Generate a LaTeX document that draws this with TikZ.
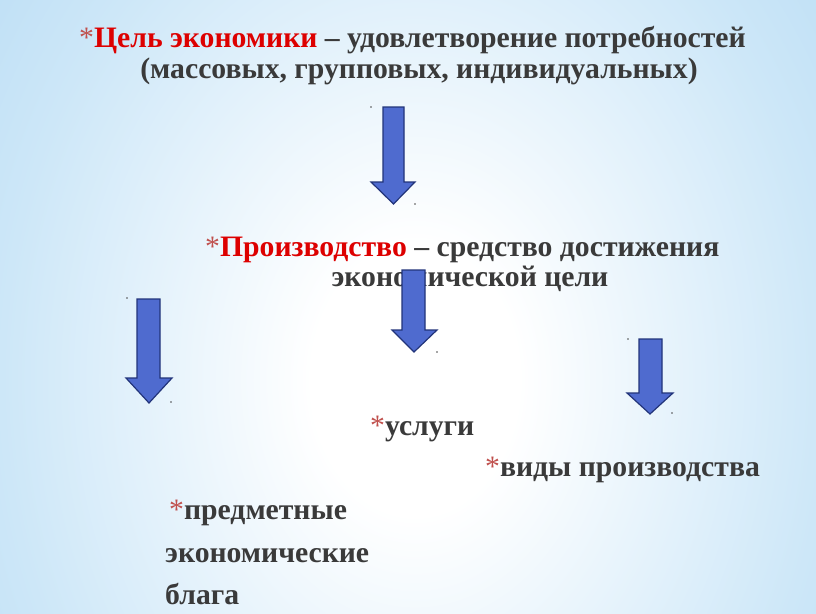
\documentclass[tikz,border=0pt]{standalone}
\usepackage{fontspec}
\setmainfont{Liberation Serif}
\definecolor{txt}{HTML}{3A3A3A}
\definecolor{redt}{HTML}{DD0000}
\definecolor{starc}{HTML}{C0504D}
\definecolor{afill}{HTML}{4F6BCF}
\definecolor{aline}{HTML}{22347A}
\definecolor{bgblue}{HTML}{A2D0F0}
\definecolor{bgmid}{HTML}{CDE7F8}
\pgfdeclareradialshading{bgshade}{\pgfpoint{0bp}{0bp}}{color(0bp)=(white); color(6bp)=(white); color(24bp)=(bgmid); color(44bp)=(bgblue); color(100bp)=(bgblue)}
\newcommand{\bul}{\textcolor{starc}{\mdseries *}}
\begin{document}
\begin{tikzpicture}[x=1pt,y=-1pt,
  txtnode/.style={font=\fontsize{29.7}{32}\selectfont\bfseries, text=txt, inner sep=0pt},
  blockarrow/.style={fill=afill, draw=aline, line width=1.2pt, line join=miter},
  cornerdot/.style={fill=black!70, draw=none}]
\useasboundingbox (0,0) rectangle (816,613);
\begin{scope}
\clip (0,0) rectangle (816,613);
\fill[bgblue] (0,0) rectangle (816,613);
\shade[shading=bgshade] (-15,-180) rectangle (845,940);
\end{scope}

% texts
\node[txtnode, anchor=base west] (goal) at (79,47) {\bul\textcolor{redt}{Цель экономики} – удовлетворение потребностей};
\node[txtnode, anchor=base] (goal2) at (419,78) {(массовых, групповых, индивидуальных)};
\node[txtnode, anchor=base west] (prod) at (205,256) {\bul\textcolor{redt}{Производство} – средство достижения};
\node[txtnode, anchor=base] (prod2) at (470,286) {экономической цели};
\node[txtnode, anchor=base west] (serv) at (370,435) {\bul услуги};
\node[txtnode, anchor=base west] (kinds) at (485,476) {\bul виды производства};
\node[txtnode, anchor=base west] (goods1) at (169,519) {\bul предметные};
\node[txtnode, anchor=base west] (goods2) at (165,562) {экономические};
\node[txtnode, anchor=base west] (goods3) at (165,604) {блага};

% block arrows
\draw[blockarrow] (383,107) -- (404,107) -- (404,182) -- (415,182) -- (393.5,204) -- (371,182) -- (383,182) -- cycle;
\draw[blockarrow] (402,270) -- (425,270) -- (425,330) -- (437,330) -- (414,352) -- (392,330) -- (402,330) -- cycle;
\draw[blockarrow] (137,299) -- (160,299) -- (160,378) -- (172,378) -- (149,403) -- (126,378) -- (137,378) -- cycle;
\draw[blockarrow] (639,339) -- (662,339) -- (662,393) -- (673,393) -- (650,414) -- (627,393) -- (639,393) -- cycle;

% tiny corner dots
\foreach \p in {(371,107),(415,204),(437,352),(127,298),(171,402),(628,339),(672,413)}
  \fill[cornerdot] \p circle (0.8);
\end{tikzpicture}
\end{document}
